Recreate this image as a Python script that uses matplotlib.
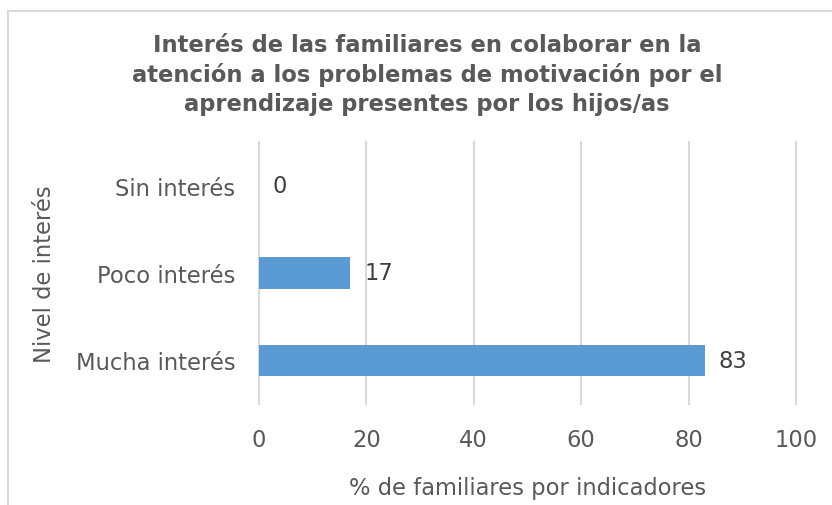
import matplotlib
matplotlib.use("Agg")
import matplotlib.pyplot as plt
from matplotlib.patches import Rectangle

categories = ["Mucha interés", "Poco interés", "Sin interés"]
values = [83, 17, 0]
xticks = [0, 20, 40, 60, 80, 100]

title = ("Interés de las familiares en colaborar en la\n"
         "atención a los problemas de motivación por el\n"
         "aprendizaje presentes por los hijos/as")

TXT = "#595959"
BAR = "#5B9BD5"
GRID = "#D9D9D9"
FS = 16.3

plt.rcParams['font.family'] = ['DejaVu Sans']

fig = plt.figure(figsize=(8.32, 5.06), dpi=100)
fig.patch.set_facecolor("white")
ax = fig.add_axes([259/832, 1-405/506, (796-259)/832, (405-143)/506])

y = list(range(len(categories)))
ax.barh(y, values, height=0.36, color=BAR, zorder=3)
for yi, v in zip(y, values):
    ax.text(v + 2.6, yi, f"{v}", va="center", ha="left", fontsize=FS, color="#404040")

ax.set_xlim(0, 100)
ax.set_ylim(-0.5, 2.5)
ax.set_xticks(xticks)
ax.set_xticklabels([str(t) for t in xticks])
ax.set_yticks(y)
ax.set_yticklabels(categories)
ax.tick_params(axis="both", length=0, labelsize=FS, labelcolor=TXT)
ax.tick_params(axis="x", pad=17)
ax.tick_params(axis="y", pad=17)
for t in xticks:
    ax.axvline(t, color=GRID, linewidth=1.5, zorder=0, clip_on=False)
for s in ax.spines.values():
    s.set_visible(False)

ax.set_xlabel("% de familiares por indicadores", fontsize=FS, color=TXT, labelpad=18)
ax.set_ylabel("Nivel de interés", fontsize=FS, color=TXT, labelpad=14)

fig.text(427/832, 1-75/506, title, ha="center", va="center", fontsize=FS,
         fontweight="bold", color=TXT, linespacing=1.3)

fig.patches.append(Rectangle((8/832, -0.2), 2, 1.2 - 12/506, transform=fig.transFigure,
                             fill=False, edgecolor=GRID, linewidth=1.5))

fig.savefig("out.png", dpi=100)
